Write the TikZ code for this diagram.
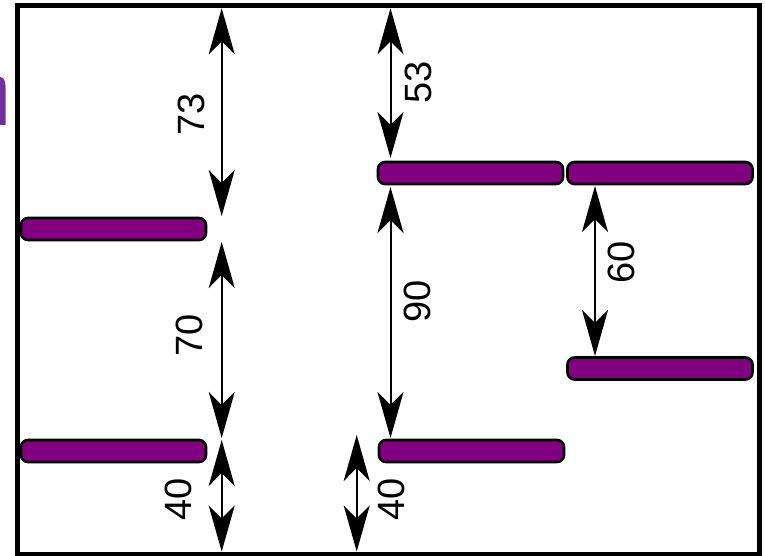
\documentclass[tikz,border=0pt]{standalone}
\usepackage{fontspec}
\setmainfont{Liberation Sans}
\usetikzlibrary{arrows.meta}
\definecolor{barfill}{HTML}{800080}
\definecolor{fragcol}{HTML}{7030A0}
\begin{document}
\begin{tikzpicture}[x=1pt,y=-1pt,
  bar/.style={draw=black, line width=2.6pt, fill=barfill, rounded corners=7pt,
    minimum width=185pt, minimum height=22pt, inner sep=0pt},
  dim/.style={line width=2pt, {Stealth[length=46pt,width=26pt,inset=13pt]}-{Stealth[length=46pt,width=26pt,inset=13pt]}},
  lbl/.style={rotate=90, inner sep=0pt, font=\fontsize{38}{40}\selectfont}]
\useasboundingbox (0,0) rectangle (765,556);
% cut-off fragment at the left edge
\fill[fragcol] (0,125) -- (5.5,125) -- (5.5,86) .. controls (5.5,80) and (3,77) .. (0,77) -- cycle;
% frame
\draw[line width=5pt] (17.5,5.8) rectangle (759,554);
% bars
\node[bar] (b1) at (113.5,229) {};
\node[bar] (b2) at (113.5,451) {};
\node[bar] (b3) at (470.5,173) {};
\node[bar] (b4) at (660,173) {};
\node[bar] (b5) at (660,368.5) {};
\node[bar] (b6) at (471.5,451) {};
% coordinates for arrow ends
\coordinate (a73t) at (221.7,8.3);
\coordinate (a73b) at (221.7,216);
\coordinate (a70t) at (221.7,242);
\coordinate (a70b) at (221.7,438);
\coordinate (a40lt) at (221.7,440);
\coordinate (a40lb) at (221.7,551.5);
\coordinate (a53t) at (390.5,8.3);
\coordinate (a53b) at (390.5,158);
\coordinate (a90t) at (390.5,187);
\coordinate (a90b) at (390.5,438);
\coordinate (a60t) at (595,186);
\coordinate (a60b) at (595,356);
\coordinate (a40ct) at (356.7,435);
\coordinate (a40cb) at (356.7,551.5);
% dimension arrows
\draw[dim] (a73t) -- (a73b);
\draw[dim] (a70t) -- (a70b);
\draw[dim] (a40lt) -- (a40lb);
\draw[dim] (a53t) -- (a53b);
\draw[dim] (a90t) -- (a90b);
\draw[dim] (a60t) -- (a60b);
\draw[dim] (a40ct) -- (a40cb);
% labels
\node[lbl] (l73) at (191.5,114) {73};
\node[lbl] (l70) at (189,335) {70};
\node[lbl] (l40a) at (178,499) {40};
\node[lbl] (l53) at (418,82.5) {53};
\node[lbl] (l90) at (417,301) {90};
\node[lbl] (l60) at (621.5,262) {60};
\node[lbl] (l40b) at (391,499) {40};
\end{tikzpicture}
\end{document}
